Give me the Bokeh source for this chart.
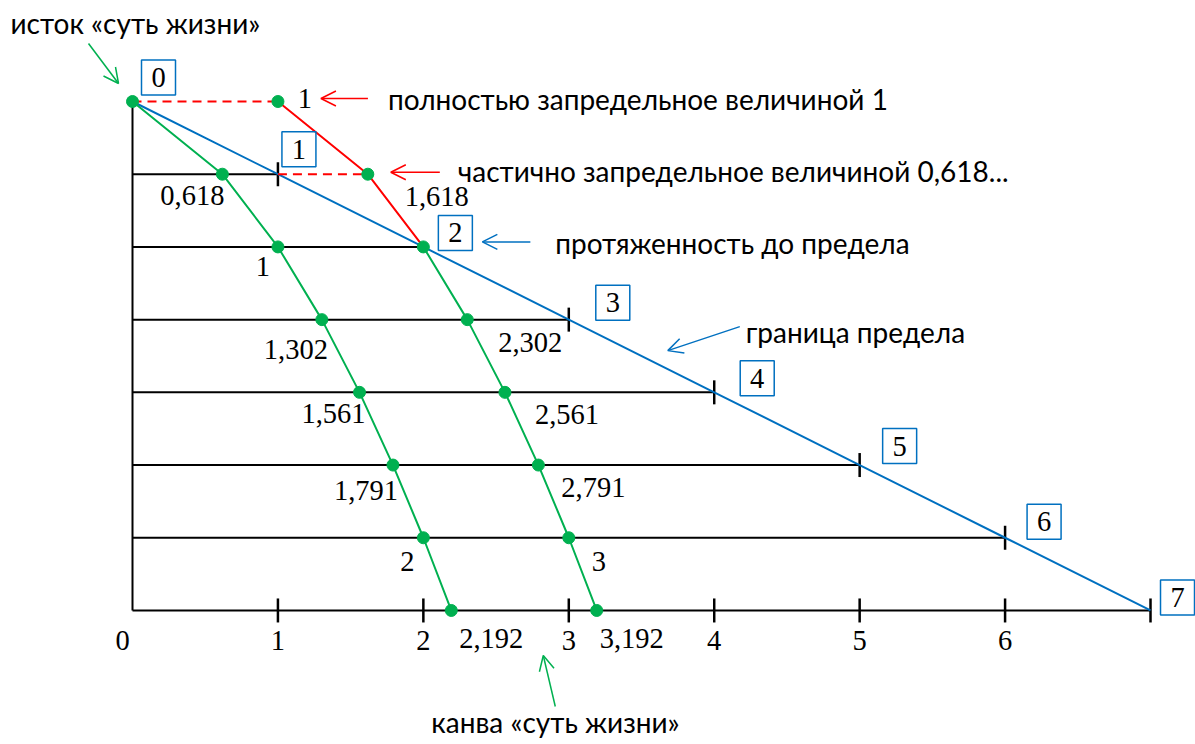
from bokeh.plotting import figure
from bokeh.models import Range1d, Arrow, OpenHead, ColumnDataSource
from bokeh.core.properties import value
from bokeh.embed import file_html
from bokeh.resources import INLINE

# ---------------- data ----------------
rows = [0, 1, 2, 3, 4, 5, 6, 7]
limit_x = [0, 1, 2, 3, 4, 5, 6, 7]                 # граница предела: x = row
inner_x = [0, 0.618, 1, 1.302, 1.561, 1.791, 2, 2.192]
inner_labels = ["", "0,618", "1", "1,302", "1,561", "1,791", "2", "2,192"]
outer_rows = [2, 3, 4, 5, 6, 7]
outer_x = [2, 2.302, 2.561, 2.791, 3, 3.192]
outer_labels = ["", "2,302", "2,561", "2,791", "3", "3,192"]
beyond_rows = [0, 1, 2]
beyond_x = [1, 1.618, 2]
beyond_labels = ["1", "1,618", ""]
tick_rows = [1, 3, 4, 5, 6]
axis_ticks = [1, 2, 3, 4, 5, 6, 7]
tick_labels = ["0", "1", "2", "3", "4", "5", "6"]
box_labels = ["0", "1", "2", "3", "4", "5", "6", "7"]

# ---------------- layout / style ----------------
W, H = 1195, 744
X0, SX = 132.0, 145.43
Y0, SY = 101.0, 72.71

BLUE = "#0070C0"
GREEN = "#00B050"
RED = "#FF0000"
SERIF = value("Liberation Serif")
SANS = value("Lato")
NUM_SIZE = "28.5px"
SANS_SIZE = "28px"


def ox(px):
    return px / SX


def oy(px):
    return px / SY


p = figure(width=W, height=H, output_backend="svg", toolbar_location=None,
           x_range=Range1d(-X0 / SX, (W - X0) / SX),
           y_range=Range1d((H - Y0) / SY, -Y0 / SY),
           x_axis_type=None, y_axis_type=None, min_border=0)
p.grid.visible = False
p.outline_line_color = None
p.background_fill_color = "white"
p.border_fill_color = "white"

# vertical line and horizontal levels
p.line([0, 0], [rows[0], rows[-1]], line_color="black", line_width=2)
p.segment(x0=[0] * 7, y0=rows[1:], x1=limit_x[1:], y1=rows[1:],
          line_color="black", line_width=2)
# ticks at boundary ends
p.segment(x0=[limit_x[r] for r in tick_rows], y0=[r - oy(12) for r in tick_rows],
          x1=[limit_x[r] for r in tick_rows], y1=[r + oy(12) for r in tick_rows],
          line_color="black", line_width=2.5)
# ticks along bottom axis
p.segment(x0=axis_ticks, y0=[rows[-1] - oy(12)] * len(axis_ticks),
          x1=axis_ticks, y1=[rows[-1] + oy(12)] * len(axis_ticks),
          line_color="black", line_width=2.5)

# boundary line
p.line(limit_x, rows, line_color=BLUE, line_width=2)

# red beyond-limit path
p.segment(x0=[0, limit_x[1]], y0=[beyond_rows[0], beyond_rows[1]],
          x1=[beyond_x[0], beyond_x[1]], y1=[beyond_rows[0], beyond_rows[1]],
          line_color=RED, line_width=2, line_dash="9 6")
p.line(beyond_x, beyond_rows, line_color=RED, line_width=2)

# green curves
p.line(inner_x, rows, line_color=GREEN, line_width=2)
p.line(outer_x, outer_rows, line_color=GREEN, line_width=2)
p.scatter(inner_x, rows, size=12, fill_color=GREEN, line_color=GREEN)
p.scatter(outer_x, outer_rows, size=12, fill_color=GREEN, line_color=GREEN)
p.scatter(beyond_x[:2], beyond_rows[:2], size=12, fill_color=GREEN, line_color=GREEN)

# numeric labels (offsets in px)
inner_off = [(0, 0), (-30, 21), (-15, 20), (-26, 30), (-26, 21), (-27, 25), (-16, 24), (40, 28)]
outer_off = [(0, 0), (63, 23), (62, 22), (55, 22), (30, 24), (35, 28)]
beyond_off = [(27, -3), (69, 22), (0, 0)]


def add_labels(xs, ys, labels, offs):
    src = ColumnDataSource(dict(
        x=[x + ox(o[0]) for x, o, t in zip(xs, offs, labels) if t],
        y=[y + oy(o[1]) for y, o, t in zip(ys, offs, labels) if t],
        t=[t for t in labels if t]))
    p.text(x="x", y="y", text="t", source=src, text_font=SERIF,
           text_font_size=NUM_SIZE, text_align="center", text_baseline="middle",
           text_color="black")


add_labels(inner_x, rows, inner_labels, inner_off)
add_labels(outer_x, outer_rows, outer_labels, outer_off)
add_labels(beyond_x, beyond_rows, beyond_labels, beyond_off)

# bottom axis tick labels
tick_off = [(-10, 30)] + [(0, 30)] * 6
add_labels(limit_x[:7], [rows[-1]] * 7, tick_labels, tick_off)

# boxed boundary numbers
box_off = [(26, -24), (21, -25), (32, -14), (44, -17), (43, -14), (40, -19), (39, -16), (27, -13)]
bx = [x + ox(o[0]) for x, o in zip(limit_x, box_off)]
by = [y + oy(o[1]) for y, o in zip(rows, box_off)]
p.rect(bx, by, width=34, height=35, width_units="screen", height_units="screen",
       fill_color=None, line_color=BLUE, line_width=1.5)
p.text(bx, by, text=box_labels, text_font=SERIF, text_font_size=NUM_SIZE,
       text_align="center", text_baseline="middle", text_color="black")

# annotations (sans text) anchored to points with px offsets
ann = [
    ("исток «суть жизни»", inner_x[0], rows[0], -122, -79),
    ("полностью запредельное величиной 1", beyond_x[0], beyond_rows[0], 110, -3),
    ("частично запредельное величиной 0,618...", beyond_x[1], beyond_rows[1], 90, -3),
    ("протяженность до предела", limit_x[2], rows[2], 132, -4),
    ("граница предела", limit_x[3], rows[3], 177, 12),
    ("канва «суть жизни»", inner_x[7], rows[7], -20, 112),
]
p.text([a[1] + ox(a[3]) for a in ann], [a[2] + oy(a[4]) for a in ann],
       text=[a[0] for a in ann], text_font=SANS, text_font_size=SANS_SIZE,
       text_align="left", text_baseline="middle", text_color="black")

arrows = [
    (GREEN, inner_x[0], rows[0], (-44, -58), (-14, -18)),
    (RED, beyond_x[0], beyond_rows[0], (90, -3), (43, -3)),
    (RED, beyond_x[1], beyond_rows[1], (72, -2), (23, -2)),
    (BLUE, limit_x[2], rows[2], (107, -5), (59, -5)),
    (BLUE, limit_x[3], rows[3], (171, 7), (99, 31)),
    (GREEN, inner_x[7], rows[7], (104, 96), (92, 45)),
]
for c, x, y, s, e in arrows:
    p.add_layout(Arrow(end=OpenHead(size=15, line_color=c, line_width=1.5),
                       x_start=x + ox(s[0]), y_start=y + oy(s[1]),
                       x_end=x + ox(e[0]), y_end=y + oy(e[1]),
                       line_color=c, line_width=1.5))

open("out.html", "w").write(file_html(p, INLINE))
